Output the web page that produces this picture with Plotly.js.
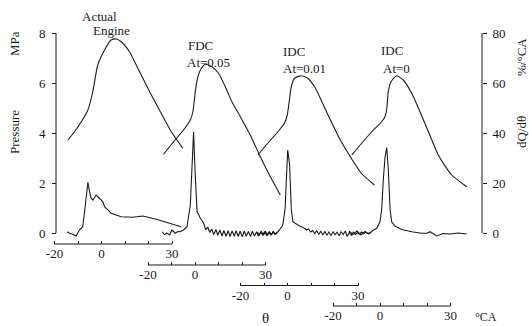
<!DOCTYPE html>
<html><head><meta charset="utf-8">
<script src="https://cdn.plot.ly/plotly-3.0.1.min.js"></script>
<style>html,body{margin:0;padding:0;background:#fff}</style>
</head><body><div id="chart" style="width:529px;height:326px"></div>
<script>
// ---- data (crank angle θ in °CA, pressure in MPa, heat release rate in %/°CA) ----
const caseNames = ["Actual Engine", "FDC At=0.05", "IDC At=0.01", "IDC At=0"];

const thetaP_actual = [-14.3,-11.5,-8.6,-5.8,-3.7,-1.6,1.3,4.1,6.3,8.4,11.9,16.2,21.2,25.4,29.7,34.6];
const pres_actual   = [3.72,4.05,4.45,4.92,5.65,6.72,7.32,7.72,7.76,7.65,7.25,6.45,5.52,4.79,4.05,3.39];

const thetaP_fdc = [-13.4,-9.1,-4.9,-2.0,-0.9,0.1,0.9,2.3,4.4,7.2,10.0,12.9,15.7,19.3,23.5,27.8,31.3,36.3];
const pres_fdc   = [3.15,3.65,4.12,4.52,4.85,5.65,6.12,6.52,6.75,6.65,6.39,5.85,5.25,4.65,3.92,3.05,2.39,1.52];

const thetaP_idc1 = [-12.6,-8.4,-4.1,-1.3,-0.1,0.9,1.6,3.0,5.8,8.6,11.5,14.3,17.9,22.1,27.1,31.4,37.0];
const pres_idc1   = [3.12,3.59,4.05,4.39,4.72,5.39,5.85,6.19,6.29,6.19,5.85,5.32,4.59,3.79,2.99,2.39,1.92];

const thetaP_idc0 = [-12.0,-7.8,-3.5,0.7,2.1,2.9,3.5,4.7,7.1,9.9,13.5,17.0,20.6,24.8,30.5,36.9];
const pres_idc0   = [3.12,3.59,4.05,4.45,4.65,4.99,5.65,6.05,6.29,6.12,5.59,4.85,4.05,3.12,2.32,1.85];

const thetaQ_actual = [-14.6,-13.6,-12.2,-10.8,-9.4,-8.0,-7.2,-6.5,-5.8,-5.1,-4.4,-3.7,-2.3,-0.9,0.6,1.3,4.1,8.4,13.3,17.6,23.3,28.9,33.9];
const hrr_actual    = [0.5,-0.1,-0.5,-1.2,1.2,2.5,8.5,13.9,20.3,16.5,13.9,13.2,15.2,13.9,12.5,10.5,7.9,6.5,6.3,6.8,5.5,3.9,2.5];

const thetaQ_fdc = [-14.0,-13.0,-11.9,-10.8,-9.8,-9.0,-8.4,-7.3,-6.3,-4.9,-3.4,-2.0,-1.3,-0.6,0.1,0.9,2.3,3.7,
  4.6,5.4,6.3,7.1,8.0,8.9,9.7,10.6,11.5,12.3,13.2,14.1,14.9,15.8,16.7,17.5,18.4,19.2,20.1,21.0,21.8,22.7,23.6,24.4,25.3,26.2,27.0,27.9,28.8,29.6,30.5,31.4,32.2,33.1,34.0,35.0];
const hrr_fdc    = [0.5,-0.6,-0.1,-0.8,1.2,0.2,-0.1,0.6,0.5,1.2,2.5,11.2,23.2,40.5,23.2,8.5,5.9,3.9,
  1.2,2.4,0.2,1.6,-0.6,1.4,-0.9,1.2,-1.2,1.0,-1.3,0.9,-1.4,0.8,-1.3,0.9,-1.4,0.7,-1.5,0.8,-1.3,0.6,-1.4,0.7,-1.2,0.5,-1.3,0.4,-0.8,0.6,-1.0,0.3,-0.7,0.4,-0.5,0.2];

const thetaQ_idc1 = [-12.8,-12.0,-11.1,-10.2,-9.4,-8.5,-7.7,-6.8,-6.0,-5.1,-4.3,-3.4,-2.0,-1.0,-0.4,0.1,0.9,1.6,2.3,4.4,7.2,
  8.1,9.0,9.8,10.7,11.6,12.4,13.3,14.2,15.0,15.9,16.8,17.6,18.5,19.4,20.2,21.1,22.0,22.8,23.7,24.6,25.4,26.3,27.2,28.0,28.9,29.8,30.6,31.5,32.4,33.2,34.1,35.6];
const hrr_idc1    = [0.4,-0.8,0.6,-0.9,0.7,-1.0,0.5,-0.7,0.6,-0.5,0.3,1.2,3.2,9.9,23.2,33.2,27.2,9.9,4.5,3.2,1.9,
  1.2,1.6,0.4,1.0,-0.2,0.9,-0.5,0.7,-0.8,0.6,-0.9,0.4,-1.0,0.5,-0.7,0.3,-1.1,0.5,-0.6,0.8,-1.4,0.2,-0.9,0.3,-0.6,0.1,-0.5,0.4,-0.3,0.3,-0.2,0.2];

const thetaQ_idc0 = [-13.2,-11.5,-9.8,-8.1,-6.4,-4.7,-3.4,-1.4,0.0,0.7,1.4,2.1,2.85,3.5,4.3,5.0,6.4,9.2,13.5,17.7,19.9,21.3,24.1,26.8,29.8,33.2,36.9];
const hrr_idc0    = [0.8,-0.6,0.8,-0.8,0.6,-0.4,0.8,1.9,4.5,9.2,21.2,30.0,34.2,25.9,9.2,4.4,2.8,1.4,0.5,-0.1,-0.1,0.5,-1.2,-0.2,-0.4,0.0,-0.4];

const tickVals = [-20,-10,0,10,20,30];
const tickText = ["-20","","0","","","30"];
const presTicks = [0,2,4,6,8];
const hrrTicks = [0,20,40,60,80];

// ---- layout helpers ----
const W = 529, H = 326;
const FONT = "'Liberation Serif', 'Times New Roman', serif";
const INK = "#1a1a1a";
const pxPerDeg = 2.35;
const axisLeftPx = [54.5, 148, 240.5, 333];   // pixel of -20 on each θ axis
const axisLinePy = [244, 265, 285.5, 306];    // pixel row of each θ axis
const xr = [-25, 40];

const layout = {
  width: W, height: H, margin: {l:0, r:0, t:0, b:0},
  paper_bgcolor: "#fff", plot_bgcolor: "rgba(0,0,0,0)",
  showlegend: false, font: {family: FONT, size: 13, color: INK},
  shapes: [], annotations: []
};
const xids = ["x","x2","x3","x4"];
for (let k = 0; k < 4; k++) {
  const p = axisLeftPx[k];
  const d0 = (p + (xr[0] + 20) * pxPerDeg) / W;
  const d1 = (p + (xr[1] + 20) * pxPerDeg) / W;
  const pos = 1 - axisLinePy[k] / H;
  layout[k === 0 ? "xaxis" : "xaxis" + (k + 1)] = {
    domain: [d0, d1], range: xr, anchor: "free", position: pos,
    showline: false, zeroline: false, showgrid: false,
    ticks: "inside", ticklen: 3, tickwidth: 1, tickcolor: INK,
    tickvals: tickVals, ticktext: tickText,
    tickfont: {family: FONT, size: 13, color: INK}
  };
  layout.shapes.push({type:"line", xref: xids[k], yref:"paper", x0:-20, x1:30, y0:pos, y1:pos,
    line:{color:INK, width:1}});
}
const yBotPx = 233 + 0.5 * 25, yTopPx = 33 - 0.6 * 25;
const yDom = [1 - yBotPx / H, 1 - yTopPx / H];
const yLeftX = 56 / W, yRightX = 482 / W;
layout.yaxis = {
  domain: yDom, range: [-0.5, 8.6], anchor: "free", position: yLeftX,
  showline: false, zeroline: false, showgrid: false,
  ticks: "outside", ticklen: 4, tickcolor: INK, tickvals: presTicks,
  ticklabelstandoff: 4, tickfont: {family: FONT, size: 13, color: INK}
};
layout.yaxis2 = {
  overlaying: "y", side: "right", range: [-5, 86], anchor: "free", position: yRightX,
  showline: false, zeroline: false, showgrid: false,
  ticks: "outside", ticklen: 4, tickcolor: INK, tickvals: hrrTicks,
  ticklabelstandoff: 3, tickfont: {family: FONT, size: 13, color: INK}
};
layout.shapes.push({type:"line", xref:"paper", yref:"y", x0:yLeftX, x1:yLeftX, y0:0, y1:8, line:{color:INK, width:1}});
layout.shapes.push({type:"line", xref:"paper", yref:"y2", x0:yRightX, x1:yRightX, y0:0, y1:80, line:{color:INK, width:1}});

function ann(text, px, py, size, angle) {
  layout.annotations.push({text: text, xref:"paper", yref:"paper", x: px / W, y: 1 - py / H,
    xanchor:"center", yanchor:"middle", showarrow:false, textangle: angle || 0,
    font:{family: FONT, size: size || 13, color: INK}});
}
ann("Actual", 99, 16); ann("Engine", 111, 30);
ann("FDC", 200, 46); ann("At=0.05", 208, 62);
ann("IDC", 294, 52); ann("At=0.01", 304, 68);
ann("IDC", 392, 50); ann("At=0", 396, 68);
ann("MPa", 14, 44, 13, -90); ann("Pressure", 14, 132, 13, -90);
ann("%/°CA", 521, 57, 13, -90); ann("dQ/dθ", 521, 132, 13, -90);
ann("θ", 265, 318, 15); ann("°CA", 486, 317, 12);

// ---- traces ----
const line = {color: INK, width: 1.1};
const P = [[thetaP_actual, pres_actual],[thetaP_fdc, pres_fdc],[thetaP_idc1, pres_idc1],[thetaP_idc0, pres_idc0]];
const Q = [[thetaQ_actual, hrr_actual],[thetaQ_fdc, hrr_fdc],[thetaQ_idc1, hrr_idc1],[thetaQ_idc0, hrr_idc0]];
const data = [];
for (let k = 0; k < 4; k++) {
  data.push({type:"scatter", mode:"lines", name: caseNames[k] + " pressure", x: P[k][0], y: P[k][1],
    xaxis: xids[k], yaxis: "y", line: Object.assign({shape:"spline", smoothing:0.6}, line), hoverinfo:"skip"});
  data.push({type:"scatter", mode:"lines", name: caseNames[k] + " dQ/dθ", x: Q[k][0], y: Q[k][1],
    xaxis: xids[k], yaxis: "y2", line: line, hoverinfo:"skip"});
}
Plotly.newPlot("chart", data, layout, {staticPlot: true, displayModeBar: false});
</script></body></html>
